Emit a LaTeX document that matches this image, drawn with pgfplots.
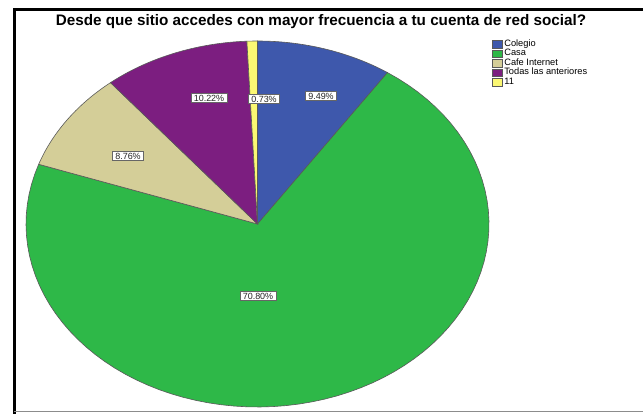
\documentclass[border=0pt]{standalone}
\usepackage{fontspec}
\setmainfont{Liberation Sans}
\usepackage{pgfplots}
\usepackage{pgfplotstable}
\pgfplotsset{compat=1.18}

\definecolor{cblue}{RGB}{62,88,172}
\definecolor{cgreen}{RGB}{46,184,72}
\definecolor{ctan}{RGB}{212,206,152}
\definecolor{cpurple}{RGB}{124,30,128}
\definecolor{cyellow}{RGB}{251,248,115}

\tikzset{
  slice/.style={draw=black!65, line width=0.6bp},
  lbl/.style={draw=black!60, fill=white, line width=0.6bp, inner xsep=2.8bp,
    inner ysep=1.5bp, font=\fontsize{9}{10}\selectfont, text=black!85},
}
\pgfkeys{/pgf/number format/.cd, fixed, precision=2, fixed zerofill,
  assume math mode=true}

% porcentajes de cada sector
\pgfplotstableread[col sep=comma]{
name,value
Colegio,9.49
Casa,70.80
Cafe Internet,8.76
Todas las anteriores,10.22
11,0.73
}\piedata

\begin{document}
\begin{tikzpicture}
\pgfplotstablegetelem{0}{value}\of\piedata \let\vA\pgfplotsretval
\pgfplotstablegetelem{1}{value}\of\piedata \let\vB\pgfplotsretval
\pgfplotstablegetelem{2}{value}\of\piedata \let\vC\pgfplotsretval
\pgfplotstablegetelem{3}{value}\of\piedata \let\vD\pgfplotsretval
\pgfplotstablegetelem{4}{value}\of\piedata \let\vE\pgfplotsretval
\pgfmathsetmacro\eA{3.6*\vA}
\pgfmathsetmacro\eB{\eA+3.6*\vB}
\pgfmathsetmacro\eC{\eB+3.6*\vC}
\pgfmathsetmacro\eD{\eC+3.6*\vD}
\pgfmathsetmacro\eE{\eD+3.6*\vE}
\def\cx{257.5}\def\cy{224}\def\rx{231.5}\def\ry{183}
\begin{axis}[
  width=643bp, height=414bp, scale only axis,
  xmin=0, xmax=643, ymin=0, ymax=414, y dir=reverse,
  hide axis, clip=false,
  variable=\t, samples=80,
  legend style={at={(0.7652,0.905)}, anchor=north west, draw=none, fill=none,
    font=\fontsize{9.3}{10}\selectfont, inner sep=0pt, column sep=1.5bp,
    nodes={inner sep=0pt, text height=6.7bp, text depth=2.8bp}},
  legend cell align=left,
  legend image code/.code={\draw[#1] (0bp,-4bp) rectangle (10bp,3.6bp);},
]
\addplot[slice, fill=cblue, domain=0:\eA]
  ({\cx+\rx*sin(t)},{\cy-\ry*cos(t)}) -- (axis cs:\cx,\cy) -- cycle;
\addplot[slice, fill=cgreen, domain=\eA:\eB]
  ({\cx+\rx*sin(t)},{\cy-\ry*cos(t)}) -- (axis cs:\cx,\cy) -- cycle;
\addplot[slice, fill=ctan, domain=\eB:\eC]
  ({\cx+\rx*sin(t)},{\cy-\ry*cos(t)}) -- (axis cs:\cx,\cy) -- cycle;
\addplot[slice, fill=cpurple, domain=\eC:\eD]
  ({\cx+\rx*sin(t)},{\cy-\ry*cos(t)}) -- (axis cs:\cx,\cy) -- cycle;
\addplot[slice, fill=cyellow, domain=\eD:\eE, samples=10]
  ({\cx+\rx*sin(t)},{\cy-\ry*cos(t)}) -- (axis cs:\cx,\cy) -- cycle;
\legend{Colegio,Casa,Cafe Internet,Todas las anteriores,11}

\node[lbl] at (axis cs:321,96) {\pgfmathprintnumber{\vA}\%};
\node[lbl] at (axis cs:258,296) {\pgfmathprintnumber{\vB}\%};
\node[lbl] at (axis cs:128,156) {\pgfmathprintnumber{\vC}\%};
\node[lbl] at (axis cs:209,98) {\pgfmathprintnumber{\vD}\%};
\node[lbl] at (axis cs:264,99) {\pgfmathprintnumber{\vE}\%};

\node[font=\bfseries\fontsize{15.3}{17}\selectfont, anchor=base] at (axis cs:321,26)
  {Desde que sitio accedes con mayor frecuencia a tu cuenta de red social?};

% marco
\draw[line width=3bp] (axis cs:14,414) -- (axis cs:14,10) -- (axis cs:643,10);
\draw[black!45, line width=1.5bp] (axis cs:14,411.5) -- (axis cs:643,411.5);
\end{axis}
\pgfresetboundingbox
\path (0,0) rectangle (643bp,414bp);
\end{tikzpicture}
\end{document}
